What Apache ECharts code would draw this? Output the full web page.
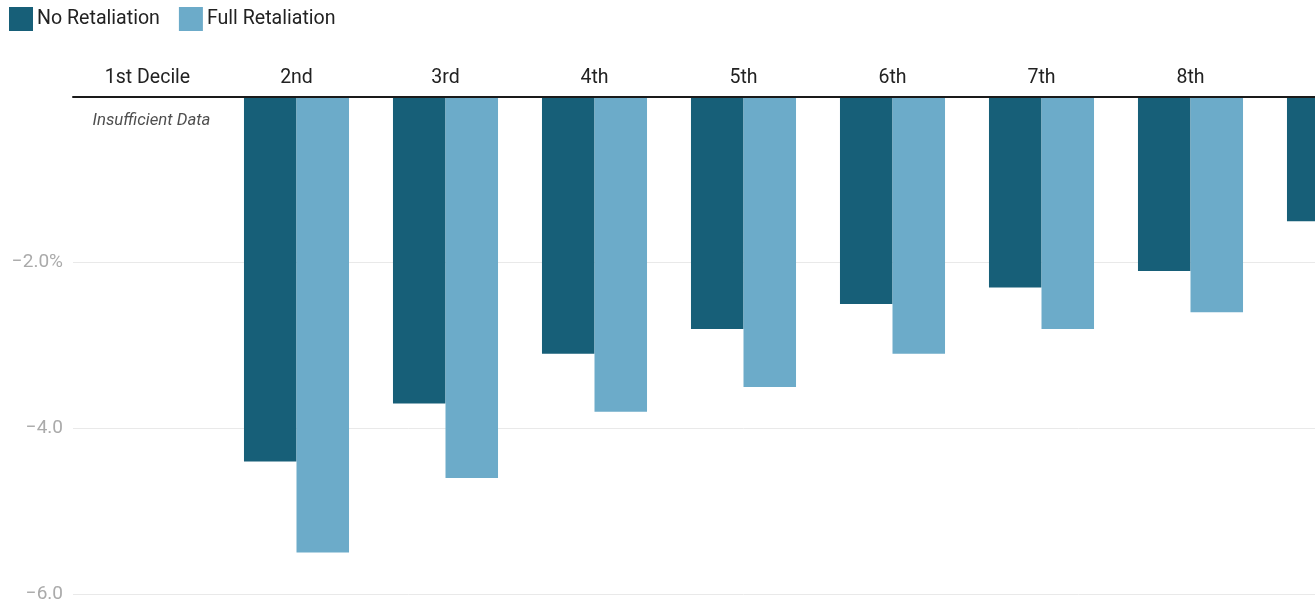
<!DOCTYPE html>
<html>
<head>
<meta charset="utf-8">
<script src="https://cdn.jsdelivr.net/npm/echarts@6/dist/echarts.min.js"></script>
<style>
  html, body { margin: 0; padding: 0; background: #fff; overflow: hidden; }
  /* the plot runs past the right edge of the page; the 9th decile is cut off */
  #chart { width: 1414px; height: 606px; }
</style>
</head>
<body>
<div id="chart"></div>
<script>
// Change in after-tax income by income decile (percent)
const deciles = ['1st Decile', '2nd', '3rd', '4th', '5th', '6th', '7th', '8th', '9th'];
const noRetaliation = [null, -4.4, -3.7, -3.1, -2.8, -2.5, -2.3, -2.1, -1.5];
const fullRetaliation = [null, -5.5, -4.6, -3.8, -3.5, -3.1, -2.8, -2.6, null];
const yTicks = [-6, -4, -2, 0];
const noteText = 'Insufficient Data';

const DARK = '#175f78';
const LIGHT = '#6cabc9';
const FONT = 'Roboto, "Noto Sans", sans-serif';

function tickLabel(v) {
  if (v === 0) return '';
  const s = '\u2212' + Math.abs(v).toFixed(1);
  return v === yTicks[2] ? s + '%' : s;
}

const chart = echarts.init(document.getElementById('chart'), null, { renderer: 'canvas' });
chart.setOption({
  animation: false,
  textStyle: { fontFamily: FONT },
  legend: {
    data: ['No Retaliation', 'Full Retaliation'],
    left: 9,
    top: 7,
    padding: 0,
    itemWidth: 24,
    itemHeight: 24,
    itemGap: 19,
    icon: 'rect',
    textStyle: { fontSize: 19.6, color: '#222', fontFamily: FONT, padding: [0, 0, 0, -1] }
  },
  grid: { left: 73, top: 97, bottom: 12, right: 0, containLabel: false },
  xAxis: {
    type: 'category',
    position: 'top',
    data: deciles,
    axisLine: { show: true, lineStyle: { color: '#1a1a1a', width: 2 } },
    axisTick: { show: false },
    axisLabel: { fontSize: 19.5, color: '#222', margin: 9, fontFamily: FONT },
    z: 10
  },
  yAxis: {
    type: 'value',
    min: -6,
    max: 0,
    interval: 2,
    axisLine: { show: false },
    axisTick: { show: false },
    axisLabel: { fontSize: 19, color: '#aaaaaa', margin: 10, formatter: tickLabel, fontFamily: FONT },
    splitLine: { lineStyle: { color: '#e9e9e9', width: 1 } }
  },
  series: [
    {
      name: 'No Retaliation',
      type: 'bar',
      data: noRetaliation,
      itemStyle: { color: DARK },
      barGap: '0%',
      barCategoryGap: '29.5%'
    },
    {
      name: 'Full Retaliation',
      type: 'bar',
      data: fullRetaliation,
      itemStyle: { color: LIGHT },
      barGap: '0%',
      barCategoryGap: '29.5%'
    },
    {
      name: 'note',
      type: 'scatter',
      data: [[deciles[0], 0]],
      symbolSize: 0,
      silent: true,
      label: {
        show: true,
        position: 'bottom',
        distance: 15,
        offset: [4, 0],
        formatter: noteText,
        fontStyle: 'italic',
        fontSize: 16.8,
        color: '#222',
        fontFamily: FONT
      }
    }
  ]
});
</script>
</body>
</html>
